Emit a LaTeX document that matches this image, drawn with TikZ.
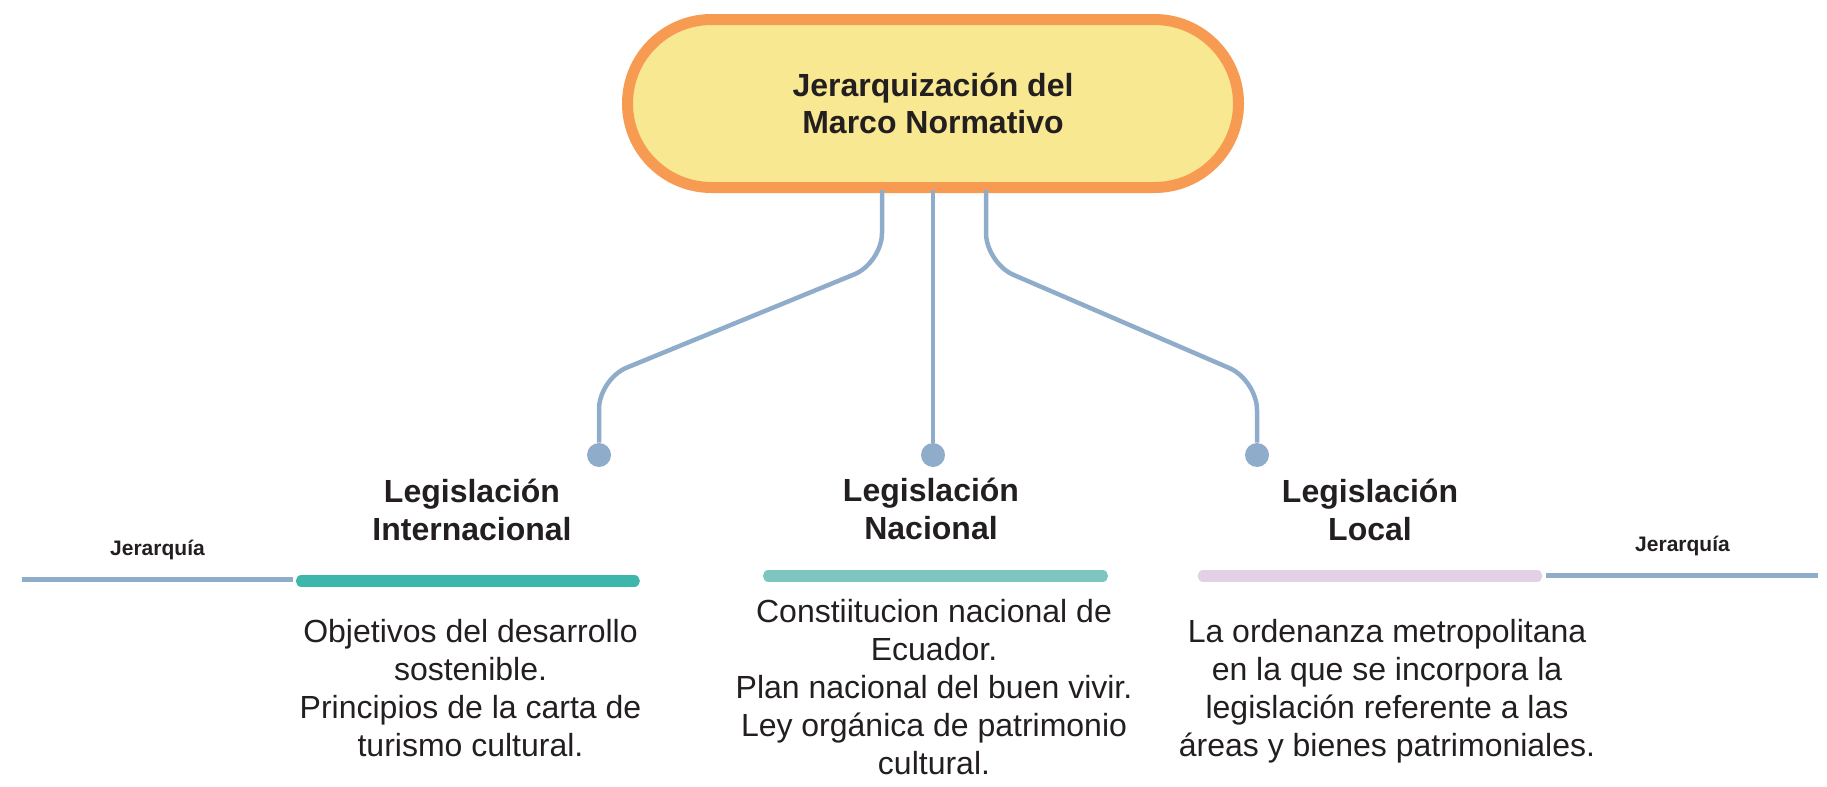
\documentclass[tikz,border=0pt]{standalone}
\usepackage{fontspec}
\setmainfont{Liberation Sans}
\definecolor{inkc}{HTML}{231F20}
\definecolor{hubline}{HTML}{F79B52}
\definecolor{hubfill}{HTML}{F7E891}
\definecolor{linkc}{HTML}{8FADCB}
\definecolor{intlc}{HTML}{3DB6AB}
\definecolor{nacc}{HTML}{7DC6BF}
\definecolor{locc}{HTML}{E2D0E6}
\tikzset{
  hub/.style={draw=hubline, fill=hubfill, line width=5.5pt, rounded corners=42pt,
    minimum width=305.5pt, minimum height=84pt, text=inkc, align=center,
    font=\bfseries\fontsize{16}{18.75}\selectfont},
  head/.style={text=inkc, align=center, font=\bfseries\fontsize{16}{19.25}\selectfont},
  body/.style={text=inkc, align=center, font=\fontsize{16}{19}\selectfont},
  tag/.style={text=inkc, anchor=base, inner sep=0pt, font=\bfseries\fontsize{10.5}{12}\selectfont},
  dot/.style={circle, fill=linkc, inner sep=0pt, minimum size=12pt},
  link/.style={linkc, line width=2.25pt, rounded corners=15pt},
  bar/.style={line width=5.6pt, line cap=round},
  rule/.style={linkc, line width=2.5pt}
}
\begin{document}
\begin{tikzpicture}[x=0.5pt,y=-0.5pt]
  \useasboundingbox (0,0) rectangle (1827,787);
  % root
  \node[hub] (hub) at (933,103.5) {Jerarquización del\\Marco Normativo};
  % end points
  \node[dot] (dotI) at (599,455) {};
  \node[dot] (dotN) at (933,455) {};
  \node[dot] (dotL) at (1257,455) {};
  \draw[link] ([xshift=-25.5pt,yshift=1.5pt]hub.south) -- ++(0,73) -- (dotI |- 0,379) -- (dotI);
  \draw[link] ([yshift=1.5pt]hub.south) -- (dotN);
  \draw[link] ([xshift=26.5pt,yshift=1.5pt]hub.south) -- ++(0,73) -- (dotL |- 0,380) -- (dotL);
  % headings
  \node[head] (intl) at (472,510) {Legislación\\Internacional};
  \node[head] (nac) at (931,509) {Legislación\\Nacional};
  \node[head] (loc) at (1370,510) {Legislación\\Local};
  % bars
  \draw[rule] (21.7,579.5) -- (293.3,579.5);
  \draw[bar, intlc] (301.4,581) -- (634.3,581);
  \draw[bar, nacc] (768.5,576) -- (1102.5,576);
  \draw[bar, locc] (1203.2,576) -- (1536.8,576);
  \draw[rule] (1546,575) -- (1818.3,575);
  \node[tag] (tagL) at (157.5,555) {Jerarquía};
  \node[tag] (tagR) at (1682.5,551) {Jerarquía};
  % texts
  \node[body] (txtI) at (470.5,688.3) {Objetivos del desarrollo\\sostenible.\\Principios de la carta de\\turismo cultural.};
  \node[body] (txtN) at (934,686.6) {Constiitucion nacional de\\Ecuador.\\Plan nacional del buen vivir.\\Ley orgánica de patrimonio\\cultural.};
  \node[body] (txtL) at (1387,691.5) {La ordenanza metropolitana\\en la que se incorpora la\\legislación referente a las\\áreas y bienes patrimoniales.};
\end{tikzpicture}
\end{document}
